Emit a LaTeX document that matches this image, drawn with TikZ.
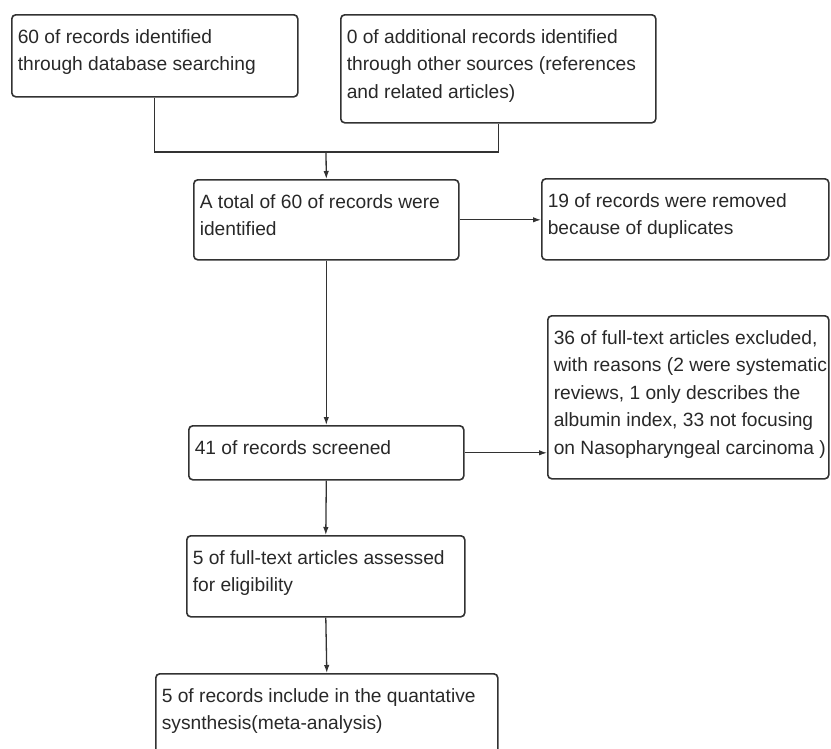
\documentclass[tikz,border=0pt]{standalone}
\usepackage{fontspec}
\setmainfont{Liberation Sans}
\usepackage{tikz}
\usepackage{xcolor}
\usetikzlibrary{positioning, arrows, arrows.meta}
\definecolor{boxline}{RGB}{50,50,50}
\definecolor{inktext}{RGB}{40,40,40}
\newcommand{\stagetext}[3]{\parbox[t][#2][t]{#1}{\vspace*{9pt}\begin{tabular}[t]{@{}l@{}}#3\end{tabular}}}

\begin{document}
\begin{tikzpicture}[x=1pt, y=-1pt,
  stage/.style={draw=boxline, line width=1.6pt, rounded corners=4pt, anchor=north west,
    inner xsep=6pt, inner ysep=0pt, text=inktext, font=\fontsize{19.2}{27.5}\selectfont},
  flow/.style={draw=boxline, line width=1.3pt, -{Latex[length=8pt,width=5.5pt]}}]
\clip (0,0) rectangle (831,748);
% identification
\node[stage] (records) at (11,14) {\stagetext{274pt}{82pt}{60 of records identified\\through database searching}};
\node[stage] (others) at (340,14) {\stagetext{303pt}{108pt}{0 of additional records identified\\through other sources (references\\and related articles)}};
\node[stage] (identified) at (193,179) {\stagetext{253pt}{80pt}{A total of 60 of records were\\identified}};
\node[stage] (duplicates) at (541,178) {\stagetext{275pt}{81pt}{19 of records were removed\\because of duplicates}};
% screening
\node[stage] (screened) at (188,425) {\stagetext{263pt}{54pt}{41 of records screened}};
\node[stage] (excluded) at (547,315) {\stagetext{269pt}{163pt}{36 of full-text articles excluded,\\with reasons (2 were systematic\\reviews, 1 only describes the\\albumin index, 33 not focusing\\on Nasopharyngeal carcinoma )}};
\node[stage] (assessed) at (186,535) {\stagetext{266pt}{81pt}{5 of full-text articles assessed\\for eligibility}};
\node[stage] (included) at (155,673) {\stagetext{330pt}{100pt}{5 of records include in the quantative\\sysnthesis(meta-analysis)}};
% connectors
\coordinate (merge) at (326,152);
\draw[boxline, line width=1.3pt] (records.south) -- (records.south |- merge) -- (others.south |- merge) -- (others.south);
\draw[flow] (merge) -- (identified.north);
\draw[flow] (identified.east) -- (identified.east -| duplicates.west);
\draw[flow] (identified.south) -- (screened.north);
\draw[flow] (screened.east) -- (screened.east -| excluded.west);
\draw[flow] (screened.south) -- (assessed.north);
\draw[flow] (assessed.south) -- (included.north);
\end{tikzpicture}
\end{document}
